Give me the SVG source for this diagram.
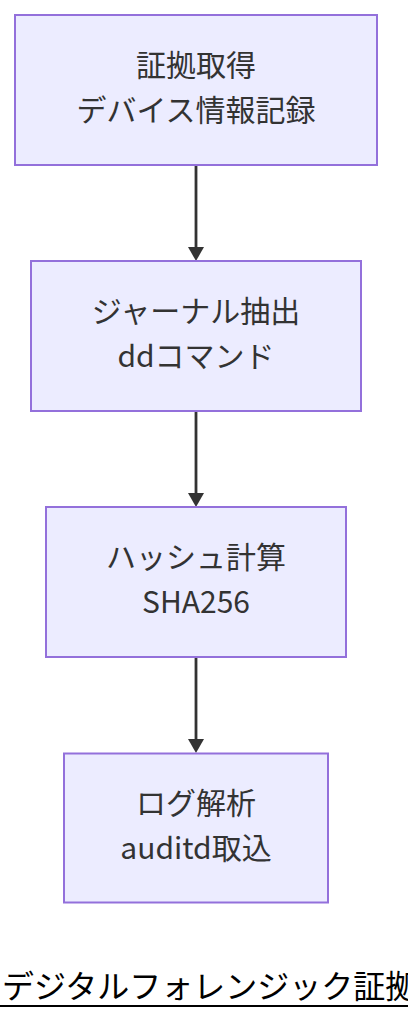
<svg xmlns="http://www.w3.org/2000/svg" width="408" height="1020" viewBox="0 0 408 1020">
<style>
.node rect{fill:#ECECFF;stroke:#9370DB;stroke-width:2}
.node text{font-family:"Noto Sans CJK JP","Noto Sans",sans-serif;font-size:30px;fill:#333;text-anchor:middle}
.edge{stroke:#333;stroke-width:2.8;fill:none}
.head{fill:#333}
.title{font-family:"Noto Sans CJK JP","Noto Sans",sans-serif;font-size:32px;fill:#000}
</style>
<rect width="408" height="1020" fill="#fff"/>
<g id="connectors">
<line class="edge" x1="196" y1="165" x2="196" y2="250"/>
<polygon class="head" points="188,247 204,247 196,261"/>
<line class="edge" x1="196" y1="411" x2="196" y2="496"/>
<polygon class="head" points="188,493 204,493 196,507"/>
<line class="edge" x1="196" y1="657" x2="196" y2="742"/>
<polygon class="head" points="188,739 204,739 196,753"/>
</g>
<g id="n1" class="node">
<rect x="15" y="15" width="362" height="150"/>
<text x="196" y="76">証拠取得</text>
<text x="196" y="121">デバイス情報記録</text>
</g>
<g id="n2" class="node">
<rect x="31" y="261" width="330" height="150"/>
<text x="196" y="322">ジャーナル抽出</text>
<text x="196" y="367">ddコマンド</text>
</g>
<g id="n3" class="node">
<rect x="46" y="507" width="300" height="150"/>
<text x="196" y="568">ハッシュ計算</text>
<text x="196" y="613">SHA256</text>
</g>
<g id="n4" class="node">
<rect x="64" y="753.5" width="264" height="149"/>
<text x="196" y="814">ログ解析</text>
<text x="196" y="859">auditd取込</text>
</g>
<g id="title">
<text class="title" x="2" y="998" letter-spacing="0">デジタルフォレンジック証拠</text>
<line x1="0" y1="1006" x2="408" y2="1006" stroke="#000" stroke-width="2"/>
</g>
</svg>
